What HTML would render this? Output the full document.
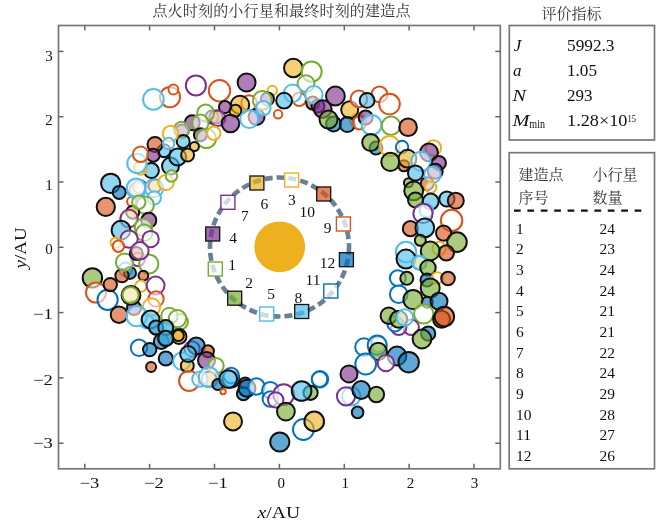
<!DOCTYPE html>
<html><head><meta charset="utf-8">
<style>
html,body{margin:0;padding:0;background:#fff;}
body{width:670px;height:525px;overflow:hidden;}
svg{display:block;}
.serif{font-family:"Liberation Serif","Noto Serif CJK SC",serif;}
.cjk{font-family:"Liberation Serif","Noto Serif CJK SC",serif;}
</style></head>
<body>
<svg width="670" height="525" viewBox="0 0 670 525">
<rect width="670" height="525" fill="#fff"/>
<text class="cjk" x="281.4" y="15.8" text-anchor="middle" font-size="15" fill="#333" textLength="258" lengthAdjust="spacing">点火时刻的小行星和最终时刻的建造点</text>
<g>
<circle cx="182.0" cy="131.0" r="6.5" fill="#7e2f8e" fill-opacity="0.62" stroke="#111" stroke-width="2.0"/>
<circle cx="212.0" cy="117.0" r="6.5" fill="#edb120" fill-opacity="0.62" stroke="#111" stroke-width="2.0"/>
<circle cx="137.0" cy="190.0" r="7.5" fill="#edb120" fill-opacity="0.62" stroke="#111" stroke-width="2.0"/>
<circle cx="140.0" cy="187.0" r="6.7" fill="#fff" fill-opacity="0.6" stroke="#7e2f8e" stroke-width="2.0"/>
<circle cx="155.0" cy="186.0" r="6.5" fill="#edb120" fill-opacity="0.62" stroke="#111" stroke-width="2.0"/>
<circle cx="128.0" cy="220.0" r="7.7" fill="#fff" fill-opacity="0.6" stroke="#edb120" stroke-width="2.0"/>
<circle cx="216.0" cy="117.0" r="6.5" fill="#d95319" fill-opacity="0.62" stroke="#111" stroke-width="2.0"/>
<circle cx="209.0" cy="379.0" r="7.5" fill="#edb120" fill-opacity="0.62" stroke="#111" stroke-width="2.0"/>
<circle cx="170.0" cy="97.1" r="10.1" fill="#fff" fill-opacity="0.6" stroke="#d95319" stroke-width="2.0"/>
<circle cx="173.4" cy="89.5" r="4.9" fill="#fff" fill-opacity="0.6" stroke="#d95319" stroke-width="2.0"/>
<circle cx="153.4" cy="99.4" r="10.3" fill="#fff" fill-opacity="0.6" stroke="#4dbeee" stroke-width="2.0"/>
<circle cx="195.9" cy="85.4" r="10.0" fill="#fff" fill-opacity="0.6" stroke="#7e2f8e" stroke-width="2.0"/>
<circle cx="219.5" cy="90.7" r="10.7" fill="#fff" fill-opacity="0.6" stroke="#d95319" stroke-width="2.0"/>
<circle cx="246.6" cy="82.5" r="9.0" fill="#7e2f8e" fill-opacity="0.62" stroke="#111" stroke-width="2.0"/>
<circle cx="249.0" cy="103.0" r="7.7" fill="#fff" fill-opacity="0.6" stroke="#d95319" stroke-width="2.0"/>
<circle cx="240.0" cy="104.9" r="9.2" fill="#edb120" fill-opacity="0.62" stroke="#111" stroke-width="2.0"/>
<circle cx="235.4" cy="110.8" r="6.0" fill="#edb120" fill-opacity="0.62" stroke="#111" stroke-width="2.0"/>
<circle cx="225.0" cy="107.1" r="6.1" fill="#7e2f8e" fill-opacity="0.62" stroke="#111" stroke-width="2.0"/>
<circle cx="217.5" cy="118.3" r="7.7" fill="#fff" fill-opacity="0.6" stroke="#7e2f8e" stroke-width="2.0"/>
<circle cx="230.5" cy="123.5" r="8.8" fill="#7e2f8e" fill-opacity="0.62" stroke="#111" stroke-width="2.0"/>
<circle cx="256.5" cy="117.0" r="8.0" fill="#7e2f8e" fill-opacity="0.62" stroke="#111" stroke-width="2.0"/>
<circle cx="249.2" cy="119.0" r="9.0" fill="#fff" fill-opacity="0.6" stroke="#4dbeee" stroke-width="2.0"/>
<circle cx="272.3" cy="90.5" r="4.7" fill="#fff" fill-opacity="0.6" stroke="#edb120" stroke-width="2.0"/>
<circle cx="267.5" cy="98.9" r="6.5" fill="#7e2f8e" fill-opacity="0.62" stroke="#111" stroke-width="2.0"/>
<circle cx="262.3" cy="100.4" r="9.4" fill="#fff" fill-opacity="0.6" stroke="#77ac30" stroke-width="2.0"/>
<circle cx="263.4" cy="108.1" r="7.2" fill="#fff" fill-opacity="0.6" stroke="#4dbeee" stroke-width="2.0"/>
<circle cx="205.6" cy="113.0" r="8.4" fill="#fff" fill-opacity="0.6" stroke="#77ac30" stroke-width="2.0"/>
<circle cx="192.2" cy="122.8" r="7.5" fill="#7e2f8e" fill-opacity="0.62" stroke="#111" stroke-width="2.0"/>
<circle cx="200.4" cy="122.8" r="8.2" fill="#fff" fill-opacity="0.6" stroke="#77ac30" stroke-width="2.0"/>
<circle cx="181.7" cy="129.5" r="7.7" fill="#fff" fill-opacity="0.6" stroke="#77ac30" stroke-width="2.0"/>
<circle cx="200.4" cy="134.7" r="6.5" fill="#7e2f8e" fill-opacity="0.62" stroke="#111" stroke-width="2.0"/>
<circle cx="206.3" cy="138.4" r="9.7" fill="#fff" fill-opacity="0.6" stroke="#77ac30" stroke-width="2.0"/>
<circle cx="213.8" cy="133.2" r="6.7" fill="#fff" fill-opacity="0.6" stroke="#edb120" stroke-width="2.0"/>
<circle cx="183.2" cy="141.4" r="6.5" fill="#4dbeee" fill-opacity="0.62" stroke="#111" stroke-width="2.0"/>
<circle cx="194.4" cy="146.6" r="4.5" fill="#edb120" fill-opacity="0.62" stroke="#111" stroke-width="2.0"/>
<circle cx="293.3" cy="68.0" r="9.3" fill="#edb120" fill-opacity="0.62" stroke="#111" stroke-width="2.0"/>
<circle cx="311.6" cy="71.6" r="10.1" fill="#fff" fill-opacity="0.6" stroke="#77ac30" stroke-width="2.0"/>
<circle cx="306.0" cy="83.6" r="8.4" fill="#fff" fill-opacity="0.6" stroke="#77ac30" stroke-width="2.0"/>
<circle cx="299.3" cy="99.3" r="6.7" fill="#fff" fill-opacity="0.6" stroke="#d95319" stroke-width="2.0"/>
<circle cx="312.7" cy="103.1" r="6.5" fill="#d95319" fill-opacity="0.62" stroke="#111" stroke-width="2.0"/>
<circle cx="318.0" cy="106.0" r="6.5" fill="#7e2f8e" fill-opacity="0.62" stroke="#111" stroke-width="2.0"/>
<circle cx="292.6" cy="93.3" r="8.7" fill="#fff" fill-opacity="0.6" stroke="#4dbeee" stroke-width="2.0"/>
<circle cx="313.9" cy="94.8" r="8.7" fill="#fff" fill-opacity="0.6" stroke="#4dbeee" stroke-width="2.0"/>
<circle cx="284.1" cy="100.7" r="7.9" fill="#4dbeee" fill-opacity="0.62" stroke="#111" stroke-width="2.0"/>
<circle cx="278.1" cy="114.2" r="4.2" fill="#fff" fill-opacity="0.6" stroke="#d95319" stroke-width="2.0"/>
<circle cx="335.4" cy="96.0" r="9.4" fill="#7e2f8e" fill-opacity="0.62" stroke="#111" stroke-width="2.0"/>
<circle cx="322.8" cy="109.1" r="8.8" fill="#7e2f8e" fill-opacity="0.62" stroke="#111" stroke-width="2.0"/>
<circle cx="333.6" cy="124.0" r="7.5" fill="#0072bd" fill-opacity="0.62" stroke="#111" stroke-width="2.0"/>
<circle cx="328.5" cy="119.6" r="9.0" fill="#77ac30" fill-opacity="0.62" stroke="#111" stroke-width="2.0"/>
<circle cx="358.0" cy="121.0" r="7.7" fill="#fff" fill-opacity="0.6" stroke="#edb120" stroke-width="2.0"/>
<circle cx="349.7" cy="109.7" r="8.5" fill="#edb120" fill-opacity="0.62" stroke="#111" stroke-width="2.0"/>
<circle cx="347.3" cy="124.6" r="7.5" fill="#0072bd" fill-opacity="0.62" stroke="#111" stroke-width="2.0"/>
<circle cx="358.9" cy="98.9" r="8.3" fill="#fff" fill-opacity="0.6" stroke="#d95319" stroke-width="2.0"/>
<circle cx="379.5" cy="94.4" r="7.9" fill="#fff" fill-opacity="0.6" stroke="#d95319" stroke-width="2.0"/>
<circle cx="389.5" cy="104.1" r="10.3" fill="#fff" fill-opacity="0.6" stroke="#d95319" stroke-width="2.0"/>
<circle cx="367.1" cy="100.4" r="7.4" fill="#4dbeee" fill-opacity="0.62" stroke="#111" stroke-width="2.0"/>
<circle cx="359.6" cy="122.8" r="6.7" fill="#fff" fill-opacity="0.6" stroke="#d95319" stroke-width="2.0"/>
<circle cx="365.6" cy="117.5" r="7.0" fill="#7e2f8e" fill-opacity="0.62" stroke="#111" stroke-width="2.0"/>
<circle cx="371.6" cy="125.0" r="9.9" fill="#fff" fill-opacity="0.6" stroke="#4dbeee" stroke-width="2.0"/>
<circle cx="391.0" cy="125.7" r="9.2" fill="#fff" fill-opacity="0.6" stroke="#77ac30" stroke-width="2.0"/>
<circle cx="408.1" cy="127.2" r="8.8" fill="#d95319" fill-opacity="0.62" stroke="#111" stroke-width="2.0"/>
<circle cx="376.0" cy="148.0" r="6.5" fill="#0072bd" fill-opacity="0.62" stroke="#111" stroke-width="2.0"/>
<circle cx="370.7" cy="142.5" r="8.5" fill="#77ac30" fill-opacity="0.62" stroke="#111" stroke-width="2.0"/>
<circle cx="389.6" cy="146.1" r="10.0" fill="#fff" fill-opacity="0.6" stroke="#edb120" stroke-width="2.0"/>
<circle cx="402.1" cy="147.0" r="6.2" fill="#fff" fill-opacity="0.6" stroke="#0072bd" stroke-width="2.0"/>
<circle cx="390.4" cy="161.9" r="9.1" fill="#77ac30" fill-opacity="0.62" stroke="#111" stroke-width="2.0"/>
<circle cx="403.9" cy="165.8" r="5.5" fill="#d95319" fill-opacity="0.62" stroke="#111" stroke-width="2.0"/>
<circle cx="407.5" cy="158.7" r="8.9" fill="#edb120" fill-opacity="0.62" stroke="#111" stroke-width="2.0"/>
<circle cx="433.4" cy="147.9" r="7.7" fill="#fff" fill-opacity="0.6" stroke="#edb120" stroke-width="2.0"/>
<circle cx="429.0" cy="152.4" r="8.9" fill="#7e2f8e" fill-opacity="0.62" stroke="#111" stroke-width="2.0"/>
<circle cx="438.8" cy="163.1" r="7.1" fill="#7e2f8e" fill-opacity="0.62" stroke="#111" stroke-width="2.0"/>
<circle cx="420.9" cy="161.3" r="9.6" fill="#fff" fill-opacity="0.6" stroke="#4dbeee" stroke-width="2.0"/>
<circle cx="435.2" cy="171.2" r="7.5" fill="#7e2f8e" fill-opacity="0.62" stroke="#111" stroke-width="2.0"/>
<circle cx="427.2" cy="183.7" r="6.5" fill="#d95319" fill-opacity="0.62" stroke="#111" stroke-width="2.0"/>
<circle cx="432.5" cy="174.8" r="8.2" fill="#fff" fill-opacity="0.6" stroke="#4dbeee" stroke-width="2.0"/>
<circle cx="415.5" cy="173.0" r="7.6" fill="#4dbeee" fill-opacity="0.62" stroke="#111" stroke-width="2.0"/>
<circle cx="430.7" cy="187.3" r="5.7" fill="#fff" fill-opacity="0.6" stroke="#edb120" stroke-width="2.0"/>
<circle cx="408.4" cy="182.8" r="4.5" fill="#77ac30" fill-opacity="0.62" stroke="#111" stroke-width="2.0"/>
<circle cx="413.7" cy="190.9" r="9.4" fill="#77ac30" fill-opacity="0.62" stroke="#111" stroke-width="2.0"/>
<circle cx="415.5" cy="199.9" r="7.5" fill="#77ac30" fill-opacity="0.62" stroke="#111" stroke-width="2.0"/>
<circle cx="430.7" cy="201.6" r="8.0" fill="#4dbeee" fill-opacity="0.62" stroke="#111" stroke-width="2.0"/>
<circle cx="446.9" cy="199.0" r="7.6" fill="#4dbeee" fill-opacity="0.62" stroke="#111" stroke-width="2.0"/>
<circle cx="455.8" cy="200.7" r="8.0" fill="#d95319" fill-opacity="0.62" stroke="#111" stroke-width="2.0"/>
<circle cx="426.3" cy="210.6" r="6.7" fill="#fff" fill-opacity="0.6" stroke="#4dbeee" stroke-width="2.0"/>
<circle cx="423.0" cy="213.4" r="9.6" fill="#fff" fill-opacity="0.6" stroke="#7e2f8e" stroke-width="2.0"/>
<circle cx="451.6" cy="220.5" r="10.7" fill="#fff" fill-opacity="0.6" stroke="#d95319" stroke-width="2.0"/>
<circle cx="410.4" cy="228.7" r="7.6" fill="#d95319" fill-opacity="0.62" stroke="#111" stroke-width="2.0"/>
<circle cx="424.8" cy="227.8" r="9.4" fill="#4dbeee" fill-opacity="0.62" stroke="#111" stroke-width="2.0"/>
<circle cx="443.6" cy="233.1" r="7.6" fill="#d95319" fill-opacity="0.62" stroke="#111" stroke-width="2.0"/>
<circle cx="420.3" cy="240.3" r="5.5" fill="#77ac30" fill-opacity="0.62" stroke="#111" stroke-width="2.0"/>
<circle cx="457.0" cy="242.1" r="9.8" fill="#77ac30" fill-opacity="0.62" stroke="#111" stroke-width="2.0"/>
<circle cx="439.1" cy="248.4" r="6.7" fill="#fff" fill-opacity="0.6" stroke="#edb120" stroke-width="2.0"/>
<circle cx="446.3" cy="252.8" r="7.6" fill="#d95319" fill-opacity="0.62" stroke="#111" stroke-width="2.0"/>
<circle cx="430.2" cy="251.0" r="9.4" fill="#77ac30" fill-opacity="0.62" stroke="#111" stroke-width="2.0"/>
<circle cx="406.0" cy="252.0" r="10.2" fill="#fff" fill-opacity="0.6" stroke="#4dbeee" stroke-width="2.0"/>
<circle cx="406.0" cy="259.1" r="9.5" fill="#4dbeee" fill-opacity="0.62" stroke="#111" stroke-width="2.0"/>
<circle cx="419.4" cy="262.7" r="6.8" fill="#77ac30" fill-opacity="0.62" stroke="#111" stroke-width="2.0"/>
<circle cx="419.4" cy="262.7" r="7.0" fill="#fff" fill-opacity="0.6" stroke="#4dbeee" stroke-width="2.0"/>
<circle cx="428.0" cy="267.8" r="7.7" fill="#77ac30" fill-opacity="0.62" stroke="#111" stroke-width="2.0"/>
<circle cx="427.0" cy="280.0" r="6.5" fill="#0072bd" fill-opacity="0.62" stroke="#111" stroke-width="2.0"/>
<circle cx="437.3" cy="277.9" r="5.7" fill="#fff" fill-opacity="0.6" stroke="#edb120" stroke-width="2.0"/>
<circle cx="448.0" cy="278.5" r="6.8" fill="#d95319" fill-opacity="0.62" stroke="#111" stroke-width="2.0"/>
<circle cx="397.8" cy="278.1" r="7.9" fill="#fff" fill-opacity="0.6" stroke="#0072bd" stroke-width="2.0"/>
<circle cx="406.8" cy="278.3" r="6.5" fill="#77ac30" fill-opacity="0.62" stroke="#111" stroke-width="2.0"/>
<circle cx="430.2" cy="288.0" r="9.5" fill="#77ac30" fill-opacity="0.62" stroke="#111" stroke-width="2.0"/>
<circle cx="398.7" cy="294.2" r="8.8" fill="#fff" fill-opacity="0.6" stroke="#0072bd" stroke-width="2.0"/>
<circle cx="427.3" cy="302.2" r="5.5" fill="#0072bd" fill-opacity="0.62" stroke="#111" stroke-width="2.0"/>
<circle cx="439.0" cy="301.3" r="8.5" fill="#0072bd" fill-opacity="0.62" stroke="#111" stroke-width="2.0"/>
<circle cx="413.0" cy="299.6" r="9.6" fill="#77ac30" fill-opacity="0.62" stroke="#111" stroke-width="2.0"/>
<circle cx="423.7" cy="313.9" r="9.6" fill="#fff" fill-opacity="0.6" stroke="#77ac30" stroke-width="2.0"/>
<circle cx="441.6" cy="319.3" r="8.5" fill="#d95319" fill-opacity="0.62" stroke="#111" stroke-width="2.0"/>
<circle cx="444.3" cy="316.6" r="9.8" fill="#d95319" fill-opacity="0.62" stroke="#111" stroke-width="2.0"/>
<circle cx="411.2" cy="327.3" r="7.7" fill="#fff" fill-opacity="0.6" stroke="#7e2f8e" stroke-width="2.0"/>
<circle cx="398.7" cy="327.3" r="7.7" fill="#fff" fill-opacity="0.6" stroke="#7e2f8e" stroke-width="2.0"/>
<circle cx="395.0" cy="323.7" r="7.7" fill="#fff" fill-opacity="0.6" stroke="#0072bd" stroke-width="2.0"/>
<circle cx="388.8" cy="315.7" r="8.2" fill="#77ac30" fill-opacity="0.62" stroke="#111" stroke-width="2.0"/>
<circle cx="398.7" cy="319.3" r="8.5" fill="#77ac30" fill-opacity="0.62" stroke="#111" stroke-width="2.0"/>
<circle cx="404.9" cy="317.5" r="8.2" fill="#fff" fill-opacity="0.6" stroke="#4dbeee" stroke-width="2.0"/>
<circle cx="428.2" cy="333.6" r="7.1" fill="#0072bd" fill-opacity="0.62" stroke="#111" stroke-width="2.0"/>
<circle cx="422.0" cy="339.0" r="9.4" fill="#77ac30" fill-opacity="0.62" stroke="#111" stroke-width="2.0"/>
<circle cx="378.1" cy="344.3" r="7.7" fill="#fff" fill-opacity="0.6" stroke="#0072bd" stroke-width="2.0"/>
<circle cx="363.9" cy="347.0" r="8.7" fill="#fff" fill-opacity="0.6" stroke="#0072bd" stroke-width="2.0"/>
<circle cx="377.3" cy="345.2" r="9.6" fill="#fff" fill-opacity="0.6" stroke="#0072bd" stroke-width="2.0"/>
<circle cx="378.2" cy="351.5" r="8.7" fill="#77ac30" fill-opacity="0.62" stroke="#111" stroke-width="2.0"/>
<circle cx="365.7" cy="364.0" r="10.4" fill="#fff" fill-opacity="0.6" stroke="#0072bd" stroke-width="2.0"/>
<circle cx="397.0" cy="356.0" r="9.4" fill="#0072bd" fill-opacity="0.62" stroke="#111" stroke-width="2.0"/>
<circle cx="408.7" cy="362.2" r="10.2" fill="#0072bd" fill-opacity="0.62" stroke="#111" stroke-width="2.0"/>
<circle cx="385.9" cy="363.1" r="8.2" fill="#fff" fill-opacity="0.6" stroke="#7e2f8e" stroke-width="2.0"/>
<circle cx="349.0" cy="373.9" r="8.5" fill="#7e2f8e" fill-opacity="0.62" stroke="#111" stroke-width="2.0"/>
<circle cx="320.0" cy="379.3" r="8.2" fill="#fff" fill-opacity="0.6" stroke="#0072bd" stroke-width="2.0"/>
<circle cx="351.3" cy="396.3" r="9.2" fill="#fff" fill-opacity="0.6" stroke="#4dbeee" stroke-width="2.0"/>
<circle cx="346.0" cy="396.3" r="9.1" fill="#fff" fill-opacity="0.6" stroke="#7e2f8e" stroke-width="2.0"/>
<circle cx="361.2" cy="390.0" r="8.9" fill="#0072bd" fill-opacity="0.62" stroke="#111" stroke-width="2.0"/>
<circle cx="376.4" cy="394.5" r="7.7" fill="#77ac30" fill-opacity="0.62" stroke="#111" stroke-width="2.0"/>
<circle cx="357.6" cy="412.4" r="5.8" fill="#0072bd" fill-opacity="0.62" stroke="#111" stroke-width="2.0"/>
<circle cx="230.9" cy="379.3" r="8.5" fill="#4dbeee" fill-opacity="0.62" stroke="#111" stroke-width="2.0"/>
<circle cx="245.2" cy="382.9" r="5.5" fill="#7e2f8e" fill-opacity="0.62" stroke="#111" stroke-width="2.0"/>
<circle cx="243.4" cy="393.7" r="6.5" fill="#0072bd" fill-opacity="0.62" stroke="#111" stroke-width="2.0"/>
<circle cx="247.0" cy="388.3" r="8.5" fill="#0072bd" fill-opacity="0.62" stroke="#111" stroke-width="2.0"/>
<circle cx="256.5" cy="386.5" r="8.2" fill="#fff" fill-opacity="0.6" stroke="#0072bd" stroke-width="2.0"/>
<circle cx="270.3" cy="390.1" r="8.2" fill="#fff" fill-opacity="0.6" stroke="#0072bd" stroke-width="2.0"/>
<circle cx="270.3" cy="399.0" r="7.7" fill="#fff" fill-opacity="0.6" stroke="#0072bd" stroke-width="2.0"/>
<circle cx="283.7" cy="394.6" r="10.4" fill="#fff" fill-opacity="0.6" stroke="#7e2f8e" stroke-width="2.0"/>
<circle cx="275.7" cy="399.9" r="7.7" fill="#fff" fill-opacity="0.6" stroke="#7e2f8e" stroke-width="2.0"/>
<circle cx="285.9" cy="411.6" r="8.9" fill="#77ac30" fill-opacity="0.62" stroke="#111" stroke-width="2.0"/>
<circle cx="319.6" cy="379.3" r="7.7" fill="#fff" fill-opacity="0.6" stroke="#0072bd" stroke-width="2.0"/>
<circle cx="310.6" cy="392.8" r="7.1" fill="#77ac30" fill-opacity="0.62" stroke="#111" stroke-width="2.0"/>
<circle cx="301.6" cy="391.0" r="9.8" fill="#4dbeee" fill-opacity="0.62" stroke="#111" stroke-width="2.0"/>
<circle cx="303.4" cy="429.5" r="10.4" fill="#fff" fill-opacity="0.6" stroke="#0072bd" stroke-width="2.0"/>
<circle cx="314.2" cy="421.4" r="9.8" fill="#edb120" fill-opacity="0.62" stroke="#111" stroke-width="2.0"/>
<circle cx="279.8" cy="442.0" r="9.6" fill="#0072bd" fill-opacity="0.62" stroke="#111" stroke-width="2.0"/>
<circle cx="233.0" cy="421.4" r="9.0" fill="#edb120" fill-opacity="0.62" stroke="#111" stroke-width="2.0"/>
<circle cx="139.0" cy="347.8" r="8.2" fill="#fff" fill-opacity="0.6" stroke="#0072bd" stroke-width="2.0"/>
<circle cx="149.7" cy="349.6" r="6.7" fill="#0072bd" fill-opacity="0.62" stroke="#111" stroke-width="2.0"/>
<circle cx="147.0" cy="321.8" r="6.7" fill="#fff" fill-opacity="0.6" stroke="#4dbeee" stroke-width="2.0"/>
<circle cx="166.7" cy="328.1" r="6.5" fill="#4dbeee" fill-opacity="0.62" stroke="#111" stroke-width="2.0"/>
<circle cx="156.5" cy="328.1" r="6.7" fill="#0072bd" fill-opacity="0.62" stroke="#111" stroke-width="2.0"/>
<circle cx="161.3" cy="341.5" r="7.5" fill="#0072bd" fill-opacity="0.62" stroke="#111" stroke-width="2.0"/>
<circle cx="165.8" cy="338.8" r="7.5" fill="#0072bd" fill-opacity="0.62" stroke="#111" stroke-width="2.0"/>
<circle cx="180.2" cy="321.8" r="7.7" fill="#fff" fill-opacity="0.6" stroke="#77ac30" stroke-width="2.0"/>
<circle cx="179.0" cy="336.5" r="7.5" fill="#edb120" fill-opacity="0.62" stroke="#111" stroke-width="2.0"/>
<circle cx="165.8" cy="358.5" r="7.1" fill="#0072bd" fill-opacity="0.62" stroke="#111" stroke-width="2.0"/>
<circle cx="151.1" cy="366.9" r="5.0" fill="#d95319" fill-opacity="0.62" stroke="#111" stroke-width="2.0"/>
<circle cx="192.0" cy="349.0" r="7.7" fill="#fff" fill-opacity="0.6" stroke="#7e2f8e" stroke-width="2.0"/>
<circle cx="196.3" cy="346.0" r="8.5" fill="#0072bd" fill-opacity="0.62" stroke="#111" stroke-width="2.0"/>
<circle cx="181.9" cy="361.2" r="8.7" fill="#fff" fill-opacity="0.6" stroke="#4dbeee" stroke-width="2.0"/>
<circle cx="187.3" cy="365.7" r="6.5" fill="#edb120" fill-opacity="0.62" stroke="#111" stroke-width="2.0"/>
<circle cx="188.2" cy="354.0" r="8.0" fill="#4dbeee" fill-opacity="0.62" stroke="#111" stroke-width="2.0"/>
<circle cx="207.9" cy="351.3" r="6.0" fill="#d95319" fill-opacity="0.62" stroke="#111" stroke-width="2.0"/>
<circle cx="206.5" cy="360.5" r="8.5" fill="#7e2f8e" fill-opacity="0.62" stroke="#111" stroke-width="2.0"/>
<circle cx="216.0" cy="365.7" r="7.7" fill="#fff" fill-opacity="0.6" stroke="#77ac30" stroke-width="2.0"/>
<circle cx="189.1" cy="380.9" r="10.0" fill="#fff" fill-opacity="0.6" stroke="#d95319" stroke-width="2.0"/>
<circle cx="199.9" cy="379.1" r="7.7" fill="#fff" fill-opacity="0.6" stroke="#4dbeee" stroke-width="2.0"/>
<circle cx="208.8" cy="377.3" r="10.0" fill="#fff" fill-opacity="0.6" stroke="#4dbeee" stroke-width="2.0"/>
<circle cx="217.8" cy="384.5" r="5.5" fill="#0072bd" fill-opacity="0.62" stroke="#111" stroke-width="2.0"/>
<circle cx="231.2" cy="375.5" r="7.7" fill="#fff" fill-opacity="0.6" stroke="#0072bd" stroke-width="2.0"/>
<circle cx="228.2" cy="379.1" r="8.9" fill="#4dbeee" fill-opacity="0.62" stroke="#111" stroke-width="2.0"/>
<circle cx="223.1" cy="391.6" r="2.7" fill="#fff" fill-opacity="0.6" stroke="#d95319" stroke-width="2.0"/>
<circle cx="92.4" cy="277.9" r="9.7" fill="#77ac30" fill-opacity="0.62" stroke="#111" stroke-width="2.0"/>
<circle cx="96.0" cy="292.6" r="10.0" fill="#fff" fill-opacity="0.6" stroke="#d95319" stroke-width="2.0"/>
<circle cx="107.6" cy="299.8" r="10.1" fill="#fff" fill-opacity="0.6" stroke="#0072bd" stroke-width="2.0"/>
<circle cx="110.3" cy="284.6" r="6.7" fill="#d95319" fill-opacity="0.62" stroke="#111" stroke-width="2.0"/>
<circle cx="125.5" cy="269.3" r="6.7" fill="#fff" fill-opacity="0.6" stroke="#4dbeee" stroke-width="2.0"/>
<circle cx="130.0" cy="272.9" r="6.0" fill="#0072bd" fill-opacity="0.62" stroke="#111" stroke-width="2.0"/>
<circle cx="122.0" cy="275.6" r="6.7" fill="#d95319" fill-opacity="0.62" stroke="#111" stroke-width="2.0"/>
<circle cx="138.0" cy="259.5" r="6.7" fill="#fff" fill-opacity="0.6" stroke="#7e2f8e" stroke-width="2.0"/>
<circle cx="124.6" cy="262.2" r="8.7" fill="#fff" fill-opacity="0.6" stroke="#77ac30" stroke-width="2.0"/>
<circle cx="148.8" cy="264.0" r="9.6" fill="#fff" fill-opacity="0.6" stroke="#77ac30" stroke-width="2.0"/>
<circle cx="143.4" cy="275.6" r="4.9" fill="#d95319" fill-opacity="0.62" stroke="#111" stroke-width="2.0"/>
<circle cx="140.8" cy="286.3" r="5.7" fill="#fff" fill-opacity="0.6" stroke="#edb120" stroke-width="2.0"/>
<circle cx="155.6" cy="285.5" r="8.9" fill="#fff" fill-opacity="0.6" stroke="#7e2f8e" stroke-width="2.0"/>
<circle cx="156.0" cy="298.9" r="7.7" fill="#fff" fill-opacity="0.6" stroke="#d95319" stroke-width="2.0"/>
<circle cx="134.0" cy="308.0" r="7.0" fill="#7e2f8e" fill-opacity="0.62" stroke="#111" stroke-width="2.0"/>
<circle cx="131.0" cy="295.3" r="9.4" fill="#edb120" fill-opacity="0.62" stroke="#111" stroke-width="2.0"/>
<circle cx="130.5" cy="295.0" r="8.0" fill="#fff" fill-opacity="0.6" stroke="#77ac30" stroke-width="2.0"/>
<circle cx="119.0" cy="314.7" r="8.3" fill="#d95319" fill-opacity="0.62" stroke="#111" stroke-width="2.0"/>
<circle cx="151.5" cy="307.0" r="8.7" fill="#fff" fill-opacity="0.6" stroke="#edb120" stroke-width="2.0"/>
<circle cx="136.8" cy="316.2" r="10.1" fill="#fff" fill-opacity="0.6" stroke="#4dbeee" stroke-width="2.0"/>
<circle cx="169.4" cy="315.9" r="8.2" fill="#fff" fill-opacity="0.6" stroke="#77ac30" stroke-width="2.0"/>
<circle cx="177.5" cy="318.6" r="8.7" fill="#fff" fill-opacity="0.6" stroke="#77ac30" stroke-width="2.0"/>
<circle cx="150.6" cy="319.5" r="8.9" fill="#4dbeee" fill-opacity="0.62" stroke="#111" stroke-width="2.0"/>
<circle cx="156.0" cy="327.5" r="7.0" fill="#4dbeee" fill-opacity="0.62" stroke="#111" stroke-width="2.0"/>
<circle cx="165.8" cy="327.5" r="7.5" fill="#4dbeee" fill-opacity="0.62" stroke="#111" stroke-width="2.0"/>
<circle cx="178.4" cy="335.6" r="5.5" fill="#edb120" fill-opacity="0.62" stroke="#111" stroke-width="2.0"/>
<circle cx="165.8" cy="338.3" r="7.5" fill="#4dbeee" fill-opacity="0.62" stroke="#111" stroke-width="2.0"/>
<circle cx="105.8" cy="206.9" r="9.1" fill="#d95319" fill-opacity="0.62" stroke="#111" stroke-width="2.0"/>
<circle cx="131.8" cy="201.5" r="4.7" fill="#fff" fill-opacity="0.6" stroke="#d95319" stroke-width="2.0"/>
<circle cx="136.3" cy="189.0" r="9.6" fill="#fff" fill-opacity="0.6" stroke="#4dbeee" stroke-width="2.0"/>
<circle cx="154.2" cy="188.1" r="9.2" fill="#fff" fill-opacity="0.6" stroke="#4dbeee" stroke-width="2.0"/>
<circle cx="154.2" cy="197.9" r="6.7" fill="#fff" fill-opacity="0.6" stroke="#4dbeee" stroke-width="2.0"/>
<circle cx="145.2" cy="205.1" r="8.7" fill="#fff" fill-opacity="0.6" stroke="#77ac30" stroke-width="2.0"/>
<circle cx="132.7" cy="212.2" r="6.5" fill="#edb120" fill-opacity="0.62" stroke="#111" stroke-width="2.0"/>
<circle cx="129.1" cy="218.5" r="8.7" fill="#fff" fill-opacity="0.6" stroke="#7e2f8e" stroke-width="2.0"/>
<circle cx="148.8" cy="220.3" r="7.5" fill="#7e2f8e" fill-opacity="0.62" stroke="#111" stroke-width="2.0"/>
<circle cx="121.0" cy="230.2" r="9.4" fill="#4dbeee" fill-opacity="0.62" stroke="#111" stroke-width="2.0"/>
<circle cx="143.4" cy="227.5" r="8.7" fill="#fff" fill-opacity="0.6" stroke="#77ac30" stroke-width="2.0"/>
<circle cx="144.3" cy="232.8" r="8.2" fill="#fff" fill-opacity="0.6" stroke="#77ac30" stroke-width="2.0"/>
<circle cx="129.1" cy="239.1" r="8.7" fill="#fff" fill-opacity="0.6" stroke="#7e2f8e" stroke-width="2.0"/>
<circle cx="150.6" cy="239.1" r="8.2" fill="#fff" fill-opacity="0.6" stroke="#7e2f8e" stroke-width="2.0"/>
<circle cx="115.7" cy="242.7" r="5.2" fill="#fff" fill-opacity="0.6" stroke="#edb120" stroke-width="2.0"/>
<circle cx="118.4" cy="246.3" r="5.7" fill="#fff" fill-opacity="0.6" stroke="#d95319" stroke-width="2.0"/>
<circle cx="136.3" cy="253.4" r="6.5" fill="#d95319" fill-opacity="0.62" stroke="#111" stroke-width="2.0"/>
<circle cx="139.9" cy="250.8" r="8.7" fill="#fff" fill-opacity="0.6" stroke="#7e2f8e" stroke-width="2.0"/>
<circle cx="110.7" cy="183.3" r="9.6" fill="#4dbeee" fill-opacity="0.62" stroke="#111" stroke-width="2.0"/>
<circle cx="119.2" cy="192.4" r="6.5" fill="#0072bd" fill-opacity="0.62" stroke="#111" stroke-width="2.0"/>
<circle cx="151.4" cy="170.6" r="7.5" fill="#4dbeee" fill-opacity="0.62" stroke="#111" stroke-width="2.0"/>
<circle cx="170.5" cy="166.1" r="8.5" fill="#4dbeee" fill-opacity="0.62" stroke="#111" stroke-width="2.0"/>
<circle cx="164.1" cy="150.7" r="6.5" fill="#4dbeee" fill-opacity="0.62" stroke="#111" stroke-width="2.0"/>
<circle cx="177.7" cy="157.0" r="8.5" fill="#4dbeee" fill-opacity="0.62" stroke="#111" stroke-width="2.0"/>
<circle cx="155.0" cy="144.4" r="7.5" fill="#d95319" fill-opacity="0.62" stroke="#111" stroke-width="2.0"/>
<circle cx="153.3" cy="155.2" r="6.5" fill="#7e2f8e" fill-opacity="0.62" stroke="#111" stroke-width="2.0"/>
<circle cx="140.6" cy="168.0" r="6.7" fill="#fff" fill-opacity="0.6" stroke="#edb120" stroke-width="2.0"/>
<circle cx="137.0" cy="163.4" r="9.7" fill="#fff" fill-opacity="0.6" stroke="#4dbeee" stroke-width="2.0"/>
<circle cx="136.0" cy="187.8" r="9.2" fill="#fff" fill-opacity="0.6" stroke="#4dbeee" stroke-width="2.0"/>
<circle cx="140.6" cy="154.3" r="7.7" fill="#fff" fill-opacity="0.6" stroke="#d95319" stroke-width="2.0"/>
<circle cx="170.5" cy="133.5" r="7.7" fill="#fff" fill-opacity="0.6" stroke="#edb120" stroke-width="2.0"/>
<circle cx="168.6" cy="143.5" r="5.7" fill="#fff" fill-opacity="0.6" stroke="#4dbeee" stroke-width="2.0"/>
<circle cx="166.0" cy="182.4" r="7.7" fill="#fff" fill-opacity="0.6" stroke="#edb120" stroke-width="2.0"/>
<circle cx="171.4" cy="176.0" r="5.7" fill="#fff" fill-opacity="0.6" stroke="#77ac30" stroke-width="2.0"/>
<circle cx="187.6" cy="155.0" r="6.5" fill="#edb120" fill-opacity="0.62" stroke="#111" stroke-width="2.0"/>
<circle cx="138.8" cy="202.3" r="6.7" fill="#fff" fill-opacity="0.6" stroke="#77ac30" stroke-width="2.0"/>
</g>
<circle cx="279.5" cy="247" r="69.5" fill="none" stroke="#5a7189" stroke-opacity="0.9" stroke-width="4.6" stroke-dasharray="8 4"/>
<rect x="208.3" y="262.0" width="14.0" height="14.0" fill="#fff" fill-opacity="0.7" stroke="#77ac30" stroke-width="1.4"/>
<rect x="227.7" y="291.2" width="14.0" height="14.0" fill="#77ac30" fill-opacity="0.7" stroke="#111" stroke-width="1.3"/>
<rect x="284.6" y="173.0" width="14.0" height="14.0" fill="#fff" fill-opacity="0.7" stroke="#edb120" stroke-width="1.4"/>
<rect x="205.7" y="227.0" width="14.0" height="14.0" fill="#7e2f8e" fill-opacity="0.7" stroke="#111" stroke-width="1.3"/>
<rect x="259.7" y="307.0" width="14.0" height="14.0" fill="#fff" fill-opacity="0.7" stroke="#4dbeee" stroke-width="1.4"/>
<rect x="249.9" y="176.0" width="14.0" height="14.0" fill="#edb120" fill-opacity="0.7" stroke="#111" stroke-width="1.3"/>
<rect x="220.9" y="195.3" width="14.0" height="14.0" fill="#fff" fill-opacity="0.7" stroke="#7e2f8e" stroke-width="1.4"/>
<rect x="294.7" y="304.5" width="14.0" height="14.0" fill="#4dbeee" fill-opacity="0.7" stroke="#111" stroke-width="1.3"/>
<rect x="336.4" y="217.0" width="14.0" height="14.0" fill="#fff" fill-opacity="0.7" stroke="#d95319" stroke-width="1.4"/>
<rect x="316.7" y="187.0" width="14.0" height="14.0" fill="#d95319" fill-opacity="0.7" stroke="#111" stroke-width="1.3"/>
<rect x="323.8" y="284.0" width="14.0" height="14.0" fill="#fff" fill-opacity="0.7" stroke="#0072bd" stroke-width="1.4"/>
<rect x="339.4" y="252.7" width="14.0" height="14.0" fill="#0072bd" fill-opacity="0.7" stroke="#111" stroke-width="1.3"/>
<circle cx="279.7" cy="246.8" r="25.4" fill="#edb120"/>
<g class="serif" font-size="15.5" fill="#111">
<text x="232" y="270" text-anchor="middle">1</text>
<text x="249.2" y="288" text-anchor="middle">2</text>
<text x="291.8" y="205.2" text-anchor="middle">3</text>
<text x="233" y="242.7" text-anchor="middle">4</text>
<text x="271" y="299" text-anchor="middle">5</text>
<text x="264.4" y="209.4" text-anchor="middle">6</text>
<text x="244.8" y="220.5" text-anchor="middle">7</text>
<text x="298.4" y="302.6" text-anchor="middle">8</text>
<text x="327.6" y="233" text-anchor="middle">9</text>
<text x="307.2" y="217.4" text-anchor="middle">10</text>
<text x="313" y="284.8" text-anchor="middle">11</text>
<text x="327.6" y="268" text-anchor="middle">12</text>
</g>
<rect x="58.5" y="25.5" width="441.8" height="443.3" fill="none" stroke="#777" stroke-width="1.7"/>
<g stroke="#666" stroke-width="1.5">
<line x1="84.8" y1="468.8" x2="84.8" y2="463.8"/>
<line x1="84.8" y1="25.5" x2="84.8" y2="30.5"/>
<line x1="58.5" y1="443.2" x2="63.5" y2="443.2"/>
<line x1="500.3" y1="443.2" x2="495.3" y2="443.2"/>
<line x1="149.6" y1="468.8" x2="149.6" y2="463.8"/>
<line x1="149.6" y1="25.5" x2="149.6" y2="30.5"/>
<line x1="58.5" y1="377.9" x2="63.5" y2="377.9"/>
<line x1="500.3" y1="377.9" x2="495.3" y2="377.9"/>
<line x1="214.5" y1="468.8" x2="214.5" y2="463.8"/>
<line x1="214.5" y1="25.5" x2="214.5" y2="30.5"/>
<line x1="58.5" y1="312.6" x2="63.5" y2="312.6"/>
<line x1="500.3" y1="312.6" x2="495.3" y2="312.6"/>
<line x1="279.4" y1="468.8" x2="279.4" y2="463.8"/>
<line x1="279.4" y1="25.5" x2="279.4" y2="30.5"/>
<line x1="58.5" y1="247.3" x2="63.5" y2="247.3"/>
<line x1="500.3" y1="247.3" x2="495.3" y2="247.3"/>
<line x1="344.3" y1="468.8" x2="344.3" y2="463.8"/>
<line x1="344.3" y1="25.5" x2="344.3" y2="30.5"/>
<line x1="58.5" y1="182.0" x2="63.5" y2="182.0"/>
<line x1="500.3" y1="182.0" x2="495.3" y2="182.0"/>
<line x1="409.1" y1="468.8" x2="409.1" y2="463.8"/>
<line x1="409.1" y1="25.5" x2="409.1" y2="30.5"/>
<line x1="58.5" y1="116.7" x2="63.5" y2="116.7"/>
<line x1="500.3" y1="116.7" x2="495.3" y2="116.7"/>
<line x1="474.0" y1="468.8" x2="474.0" y2="463.8"/>
<line x1="474.0" y1="25.5" x2="474.0" y2="30.5"/>
<line x1="58.5" y1="51.4" x2="63.5" y2="51.4"/>
<line x1="500.3" y1="51.4" x2="495.3" y2="51.4"/>
</g>
<g class="serif" font-size="15" fill="#111">
<text x="89.4" y="488.3" text-anchor="middle" textLength="19.8" lengthAdjust="spacingAndGlyphs">−3</text>
<text x="52.8" y="448.1" text-anchor="end" textLength="19.8" lengthAdjust="spacingAndGlyphs">−3</text>
<text x="153.8" y="488.3" text-anchor="middle" textLength="19.8" lengthAdjust="spacingAndGlyphs">−2</text>
<text x="52.8" y="384.6" text-anchor="end" textLength="19.8" lengthAdjust="spacingAndGlyphs">−2</text>
<text x="217.8" y="488.3" text-anchor="middle" textLength="19.8" lengthAdjust="spacingAndGlyphs">−1</text>
<text x="52.8" y="319.0" text-anchor="end" textLength="19.8" lengthAdjust="spacingAndGlyphs">−1</text>
<text x="281.3" y="488.3" text-anchor="middle">0</text>
<text x="52.8" y="253.9" text-anchor="end">0</text>
<text x="345.2" y="488.3" text-anchor="middle">1</text>
<text x="52.8" y="189.8" text-anchor="end">1</text>
<text x="410.5" y="488.3" text-anchor="middle">2</text>
<text x="52.8" y="125.0" text-anchor="end">2</text>
<text x="474.5" y="488.3" text-anchor="middle">3</text>
<text x="52.8" y="61.0" text-anchor="end">3</text>
</g>
<text class="serif" font-size="16" fill="#111" x="257.6" y="517.8" textLength="42.5" lengthAdjust="spacingAndGlyphs"><tspan font-style="italic">x</tspan>/AU</text>
<text class="serif" font-size="16" fill="#111" transform="translate(26,268.4) rotate(-90)" textLength="41" lengthAdjust="spacingAndGlyphs"><tspan font-style="italic">y</tspan>/AU</text>
<!-- right panel -->
<text class="cjk" x="571.5" y="18.8" text-anchor="middle" font-size="15" fill="#333">评价指标</text>
<rect x="509.3" y="25.5" width="145.2" height="114.5" fill="none" stroke="#777" stroke-width="1.7"/>
<g class="serif" font-size="17" fill="#111">
<text x="513.8" y="51.2" font-style="italic">J</text><text x="567" y="51.2" textLength="47.5" lengthAdjust="spacingAndGlyphs">5992.3</text>
<text x="513" y="76.2" font-style="italic">a</text><text x="567" y="76.2" textLength="30" lengthAdjust="spacingAndGlyphs">1.05</text>
<text x="512.5" y="101.3" font-style="italic" textLength="13.5" lengthAdjust="spacingAndGlyphs">N</text><text x="567" y="101.3" textLength="25.5" lengthAdjust="spacingAndGlyphs">293</text>
<text x="512.5" y="126.3" font-style="italic" textLength="17" lengthAdjust="spacingAndGlyphs">M</text><text x="529.3" y="127.8" font-size="12" textLength="15.7" lengthAdjust="spacingAndGlyphs">min</text>
<text x="567" y="126.3" textLength="60.5" lengthAdjust="spacingAndGlyphs">1.28×10</text><text x="627.4" y="121.8" font-size="10.5" textLength="8.6" lengthAdjust="spacingAndGlyphs">15</text>
</g>
<rect x="509.2" y="152.7" width="145.3" height="316.1" fill="none" stroke="#777" stroke-width="1.7"/>
<g class="cjk" font-size="15" fill="#333">
<text x="518.4" y="180.3">建造点</text><text x="592.4" y="180.3">小行星</text>
<text x="518.4" y="203">序号</text><text x="592.4" y="203">数量</text>
</g>
<line x1="514" y1="210.7" x2="643" y2="210.7" stroke="#111" stroke-width="2.3" stroke-dasharray="6.7 6.7"/>
<g class="serif" font-size="15.5" fill="#111">
<text x="516" y="233.7">1</text><text x="599.5" y="233.7">24</text>
<text x="516" y="254.3">2</text><text x="599.5" y="254.3">23</text>
<text x="516" y="275.0">3</text><text x="599.5" y="275.0">24</text>
<text x="516" y="295.6">4</text><text x="599.5" y="295.6">24</text>
<text x="516" y="316.3">5</text><text x="599.5" y="316.3">21</text>
<text x="516" y="336.9">6</text><text x="599.5" y="336.9">21</text>
<text x="516" y="357.6">7</text><text x="599.5" y="357.6">22</text>
<text x="516" y="378.2">8</text><text x="599.5" y="378.2">24</text>
<text x="516" y="398.9">9</text><text x="599.5" y="398.9">29</text>
<text x="516" y="419.5">10</text><text x="599.5" y="419.5">28</text>
<text x="516" y="440.2">11</text><text x="599.5" y="440.2">27</text>
<text x="516" y="460.8">12</text><text x="599.5" y="460.8">26</text>
</g>
</svg>
</body></html>
